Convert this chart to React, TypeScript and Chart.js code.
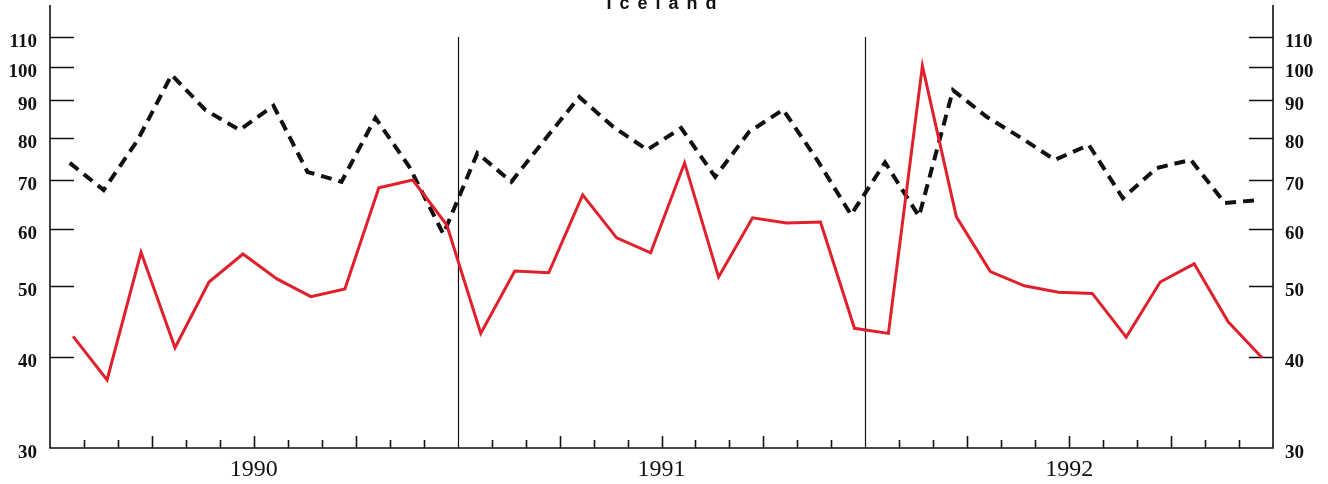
import React, { useEffect, useRef } from "react";
import { Chart, registerables } from "chart.js";

Chart.register(...registerables);

const TITLE = "Iceland";
const YEARS = ["1990", "1991", "1992"];
const MONTHS_PER_YEAR = 12;
const Y_TICKS = [30, 40, 50, 60, 70, 80, 90, 100, 110];

// monthly values, Jan 1990 .. Dec 1992
const RED_SERIES = [
  42.7, 37.2, 55.7, 41.2, 50.7, 55.4, 51.2, 48.4, 49.6, 68.3, 70.0, 60.7,
  43.1, 52.5, 52.2, 66.8, 58.3, 55.6, 73.9, 51.5, 62.1, 61.1, 61.3, 43.8,
  43.1, 100.4, 62.3, 52.4, 50.1, 49.1, 48.9, 42.6, 50.7, 53.7, 44.7, 39.9,
];
const DASHED_SERIES = [
  73.9, 67.8, 79.4, 97.6, 87.3, 82.0, 88.5, 71.8, 69.6, 85.2, 72.9, 59.0,
  76.2, 69.6, 79.7, 91.0, 82.8, 77.0, 82.5, 70.7, 81.5, 87.4, 74.6, 62.7,
  74.0, 62.4, 93.0, 85.4, 80.0, 74.6, 78.2, 66.1, 72.7, 74.6, 65.1, 65.7,
];

const RED_OFFSET = 0.68;
const DASHED_OFFSET = 0.58;
const TOTAL_MONTHS = YEARS.length * MONTHS_PER_YEAR;

const toPoints = (arr: number[], off: number) => arr.map((v, i) => ({ x: i + off, y: v }));

const framePlugin = {
  id: "frame",
  beforeDatasetsDraw(chart: any) {
    const { ctx, chartArea, scales } = chart;
    const { left, right, top, bottom } = chartArea;
    const xs = scales.x;
    const ys = scales.y;
    ctx.save();
    ctx.strokeStyle = "#111";
    ctx.lineWidth = 1.6;
    ctx.beginPath();
    ctx.moveTo(left, top - 32);
    ctx.lineTo(left, bottom);
    ctx.lineTo(right, bottom);
    ctx.lineTo(right, top - 32);
    ctx.stroke();
    for (const v of Y_TICKS) {
      if (v === Y_TICKS[0]) continue;
      const py = Math.round(ys.getPixelForValue(v)) + 0.5;
      ctx.beginPath();
      ctx.moveTo(left, py);
      ctx.lineTo(left + 24, py);
      ctx.moveTo(right - 24, py);
      ctx.lineTo(right, py);
      ctx.stroke();
    }
    for (let m = 1; m < TOTAL_MONTHS; m++) {
      const px = Math.round(xs.getPixelForValue(m)) + 0.5;
      ctx.beginPath();
      if (m % MONTHS_PER_YEAR === 0) {
        ctx.lineWidth = 1.2;
        ctx.moveTo(px, top);
        ctx.lineTo(px, bottom);
      } else {
        ctx.lineWidth = 1.6;
        const len = m % 3 === 0 ? 12 : 8;
        ctx.moveTo(px, bottom);
        ctx.lineTo(px, bottom - len);
      }
      ctx.stroke();
    }
    ctx.restore();
  },
  afterDraw(chart: any) {
    const { ctx, chartArea } = chart;
    const cx = (chartArea.left + chartArea.right) / 2;
    ctx.save();
    ctx.font = "bold 18px 'Liberation Sans'";
    ctx.fillStyle = "#111";
    ctx.textBaseline = "alphabetic";
    const spacing = 8;
    const widths = TITLE.split("").map((c) => ctx.measureText(c).width);
    const total = widths.reduce((a, b) => a + b, 0) + spacing * (TITLE.length - 1);
    let x = cx - total / 2;
    TITLE.split("").forEach((c, i) => {
      ctx.fillText(c, x, 9);
      x += widths[i] + spacing;
    });
    ctx.restore();
  },
};

export default function App() {
  const ref = useRef<HTMLCanvasElement | null>(null);

  useEffect(() => {
    document.body.style.margin = "0";
    const canvas = ref.current;
    if (!canvas) return;
    const yCommon = {
      type: "logarithmic" as const,
      min: Y_TICKS[0],
      max: Y_TICKS[Y_TICKS.length - 1],
      grid: { display: false, drawTicks: false },
      border: { display: false },
      afterBuildTicks: (s: any) => {
        s.ticks = Y_TICKS.map((v) => ({ value: v }));
      },
    };
    const yTickFont = { family: "'Liberation Serif'", size: 19, weight: "bold" as const };
    const chart = new Chart(canvas, {
      type: "line",
      data: {
        datasets: [
          {
            label: "red",
            data: toPoints(RED_SERIES, RED_OFFSET),
            borderColor: "#e0202c",
            borderWidth: 3,
            pointRadius: 0,
            tension: 0,
            borderJoinStyle: "miter",
            order: 0,
            yAxisID: "y",
          },
          {
            label: "dashed",
            data: toPoints(DASHED_SERIES, DASHED_OFFSET),
            borderColor: "#111",
            borderWidth: 4,
            borderDash: [11, 7],
            borderCapStyle: "butt",
            pointRadius: 0,
            tension: 0,
            order: 1,
            yAxisID: "y",
          },
        ],
      },
      options: {
        animation: false,
        responsive: true,
        maintainAspectRatio: false,
        layout: { padding: { top: 37, left: 0, right: 0, bottom: 0 } },
        plugins: { legend: { display: false }, tooltip: { enabled: false }, title: { display: false } },
        scales: {
          x: {
            type: "linear",
            min: 0,
            max: TOTAL_MONTHS,
            grid: { display: false, drawTicks: false },
            border: { display: false },
            afterBuildTicks: (s: any) => {
              s.ticks = Array.from({ length: TOTAL_MONTHS + 1 }, (_, i) => ({ value: i }));
            },
            afterFit: (s: any) => {
              s.height = 36;
            },
            ticks: {
              autoSkip: false,
              maxRotation: 0,
              padding: 7,
              color: "#111",
              font: { family: "'Liberation Serif'", size: 24 },
              callback: (v: any) => {
                const n = Number(v);
                return n % MONTHS_PER_YEAR === MONTHS_PER_YEAR / 2 ? YEARS[(n - 6) / 12] : "";
              },
            },
          },
          y: {
            ...yCommon,
            position: "left",
            afterFit: (s: any) => {
              s.width = 50;
            },
            ticks: {
              padding: 13,
              labelOffset: 5,
              color: "#111",
              font: yTickFont,
              callback: (v: any) => String(v),
            },
          },
          y2: {
            ...yCommon,
            position: "right",
            afterFit: (s: any) => {
              s.width = 55;
            },
            ticks: {
              padding: 12,
              labelOffset: 5,
              color: "#111",
              font: yTickFont,
              callback: (v: any) => String(v),
            },
          },
        },
      } as any,
      plugins: [framePlugin],
    });
    return () => chart.destroy();
  }, []);

  return (
    <div style={{ width: 1328, height: 484, position: "relative", background: "#fff" }}>
      <canvas ref={ref} />
    </div>
  );
}
